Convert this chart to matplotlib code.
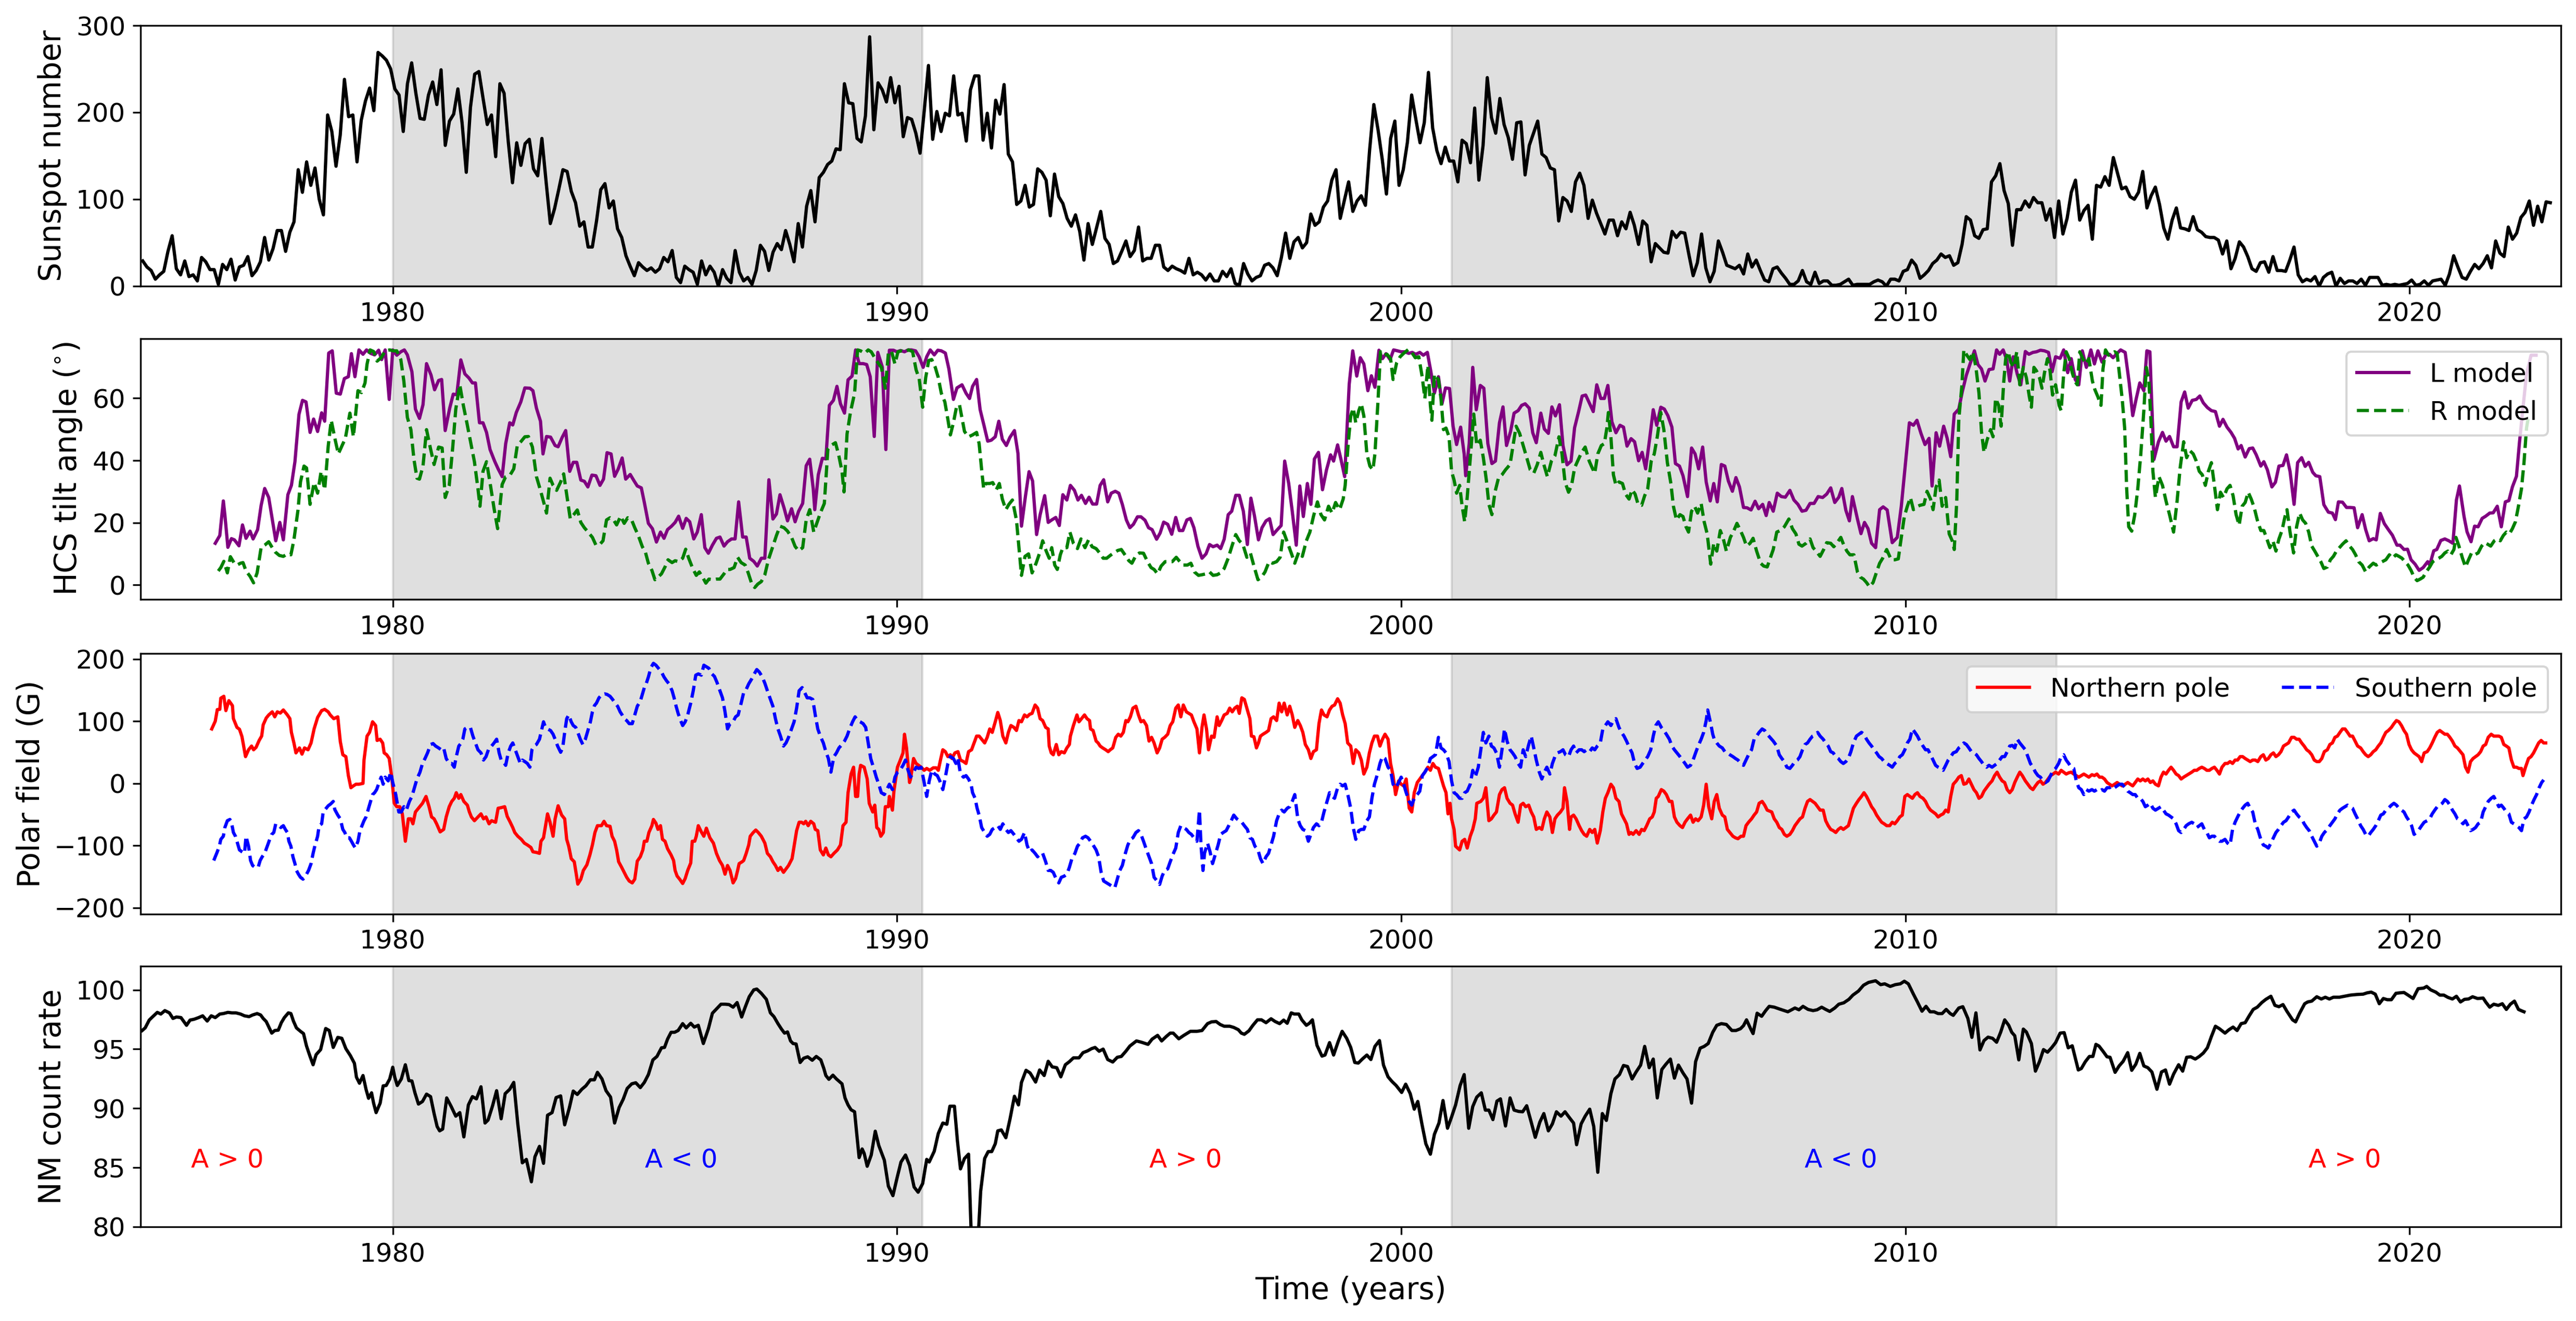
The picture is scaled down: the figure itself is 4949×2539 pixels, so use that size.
import numpy as np
import matplotlib
matplotlib.use("Agg")
import matplotlib.pyplot as plt

# ---------------- Monthly sunspot number (starting Jan 1975) ----------------
sunspot = [
29,22,18,8,13,17,40,58,20,13,29,11,13,6,33,28,19,19,2,25,19,31,7,22,24,34,12,18,28,56,
30,43,64,64,40,62,74,134,108,143,116,136,100,82,197,178,138,174,238,195,197,143,191,213,228,202,269,265,260,250,
227,220,178,233,257,222,193,192,220,235,209,249,162,190,198,227,188,131,206,244,247,216,186,197,149,233,222,166,119,165,
139,164,169,135,127,170,120,72,89,111,134,132,109,96,69,74,45,45,75,111,118,90,98,66,56,35,23,12,27,22,
18,21,16,20,33,28,41,10,4,23,19,16,2,29,13,23,16,0,19,9,4,41,16,6,10,2,18,47,40,18,
39,49,42,64,48,28,72,45,92,110,74,125,131,140,144,158,157,233,211,210,170,166,196,287,180,234,226,212,240,211,
230,172,194,192,176,153,202,254,169,201,178,199,196,242,197,199,167,
226,242,242,168,199,159,214,198,232,152,143,94,98,116,91,94,135,131,122,81,129,103,95,78,69,82,63,30,72,48,
67,86,55,48,26,29,40,52,34,41,68,29,32,32,47,47,22,18,23,20,18,15,32,13,16,13,7,14,6,6,
17,11,20,3,1,26,14,6,10,12,24,26,21,12,33,61,32,51,56,44,50,83,70,74,91,98,122,134,78,99,
120,86,98,104,93,157,209,180,146,106,170,190,116,134,166,220,192,165,188,246,182,156,141,160,144,144,120,168,164,142,
205,122,162,240,194,176,216,186,171,146,188,189,128,162,176,190,152,148,136,134,75,102,98,86,120,130,116,78,99,84,
72,60,76,76,58,74,66,85,70,48,75,70,28,49,44,39,38,63,56,62,61,36,12,27,60,21,5,17,52,39,
24,22,20,24,14,37,22,30,18,7,5,20,22,15,9,2,
2,6,18,5,2,16,3,6,6,1,1,2,5,8,1,2,2,2,2,5,7,5,0,8,8,6,17,19,30,24,
9,13,18,26,30,37,33,35,24,27,48,80,76,58,55,65,66,120,127,141,110,95,47,88,88,98,91,102,96,96,
76,89,56,98,60,78,108,122,76,87,93,54,116,114,126,116,148,130,112,114,103,100,108,132,90,104,114,94,67,54,
76,90,67,66,64,80,65,62,57,56,56,53,37,52,20,32,51,45,34,20,17,27,28,16,34,18,18,17,30,45,
13,5,8,6,11,0,10,14,16,0,9,3,6,6,3,8,1,10,10,10,1,2,1,2,1,2,3,7,1,2,
6,1,6,7,8,1,14,35,22,10,8,17,25,20,26,35,21,52,38,34,68,54,61,79,85,98,70,92,74,97,
96,
]
sunspot_time = 1975.0 + (np.arange(len(sunspot)) + 0.5) / 12.0

# ---------------- HCS tilt angle: L model (year, degrees) ----------------
l_model = [
(1976.48,13.4),(1976.57,15.9),(1976.64,27.0),(1976.67,22.6),(1976.73,12.1),(1976.80,14.9),(1976.86,14.5),(1976.95,12.6),
(1977.02,19.3),(1977.09,15.0),(1977.17,17.3),(1977.23,14.8),(1977.32,17.8),(1977.39,25.6),(1977.46,31.0),(1977.54,28.1),
(1977.61,21.2),(1977.68,14.2),(1977.76,20.1),(1977.83,14.5),(1977.92,29.0),(1977.99,32.0),(1978.06,39.6),(1978.14,54.8),
(1978.21,59.3),(1978.28,58.8),(1978.36,49.0),(1978.43,53.3),(1978.51,49.3),(1978.59,55.3),(1978.65,52.6),(1978.73,74.5),
(1978.80,75.2),(1978.88,61.6),(1978.96,61.3),(1979.04,66.3),(1979.12,66.9),(1979.18,74.3),(1979.25,66.9),(1979.33,75.5),
(1979.41,74.1),(1979.48,75.5),(1979.56,74.4),(1979.64,73.9),(1979.72,75.4),(1979.78,72.4),(1979.85,75.5),(1979.93,59.6),
(1980.00,75.5),(1980.08,73.8),(1980.16,74.9),(1980.23,75.5),(1980.29,73.9),(1980.38,68.5),(1980.45,56.5),(1980.53,53.5),
(1980.60,57.9),(1980.67,71.1),(1980.76,67.4),(1980.83,62.7),(1980.91,65.7),(1980.97,66.0),(1981.04,49.6),(1981.13,56.8),
(1981.20,61.3),(1981.27,61.1),(1981.35,72.3),(1981.43,67.8),(1981.51,66.5),(1981.58,64.9),(1981.64,64.9),(1981.72,52.1),
(1981.79,52.1),(1981.86,49.0),(1981.93,43.5),(1982.02,39.8),(1982.09,37.3),(1982.17,34.8),(1982.24,45.4),(1982.32,52.1),
(1982.38,51.4),(1982.45,55.4),(1982.54,58.8),(1982.62,63.3),(1982.72,63.2),(1982.78,62.4),(1982.85,56.8),(1982.93,52.6),
(1982.98,42.1),(1983.05,47.7),(1983.13,47.5),(1983.22,44.8),(1983.28,44.4),(1983.36,47.4),(1983.43,49.6),(1983.51,36.5),
(1983.58,39.4),(1983.65,39.4),(1983.73,33.7),(1983.80,33.3),(1983.87,31.5),(1983.95,35.3),(1984.03,35.1),(1984.11,32.0),
(1984.18,34.0),(1984.25,42.5),(1984.33,42.1),(1984.40,34.9),(1984.47,37.2),(1984.55,40.8),(1984.62,34.0),(1984.71,35.5),
(1984.78,33.6),(1984.85,31.8),(1984.93,31.2),(1984.99,26.5),(1985.07,19.8),(1985.15,18.1),(1985.23,13.8),(1985.31,17.0),
(1985.38,15.0),(1985.45,17.8),(1985.53,18.9),(1985.60,20.1),(1985.67,22.1),(1985.75,18.2),(1985.82,21.4),(1985.89,20.3),
(1985.97,14.8),(1986.04,17.0),(1986.12,22.6),(1986.19,12.0),(1986.26,10.2),(1986.34,12.8),(1986.42,15.0),(1986.49,15.4),
(1986.57,12.5),(1986.64,13.9),(1986.72,14.8),(1986.79,14.8),(1986.86,26.7),(1986.94,15.4),(1987.01,15.4),(1987.08,8.6),
(1987.16,7.6),(1987.23,6.1),(1987.31,8.6),(1987.38,8.6),(1987.46,33.8),(1987.54,21.2),(1987.61,22.8),(1987.68,29.0),
(1987.76,24.8),(1987.83,20.6),(1987.91,24.5),(1987.98,20.3),(1988.05,23.7),(1988.13,26.2),(1988.20,38.3),(1988.27,40.4),
(1988.34,30.9),(1988.37,24.2),(1988.44,35.4),(1988.52,40.7),(1988.59,40.5),(1988.66,57.7),(1988.74,59.3),(1988.81,63.8),
(1988.88,58.2),(1988.96,55.2),(1989.03,65.9),(1989.11,67.1),(1989.18,75.5),(1989.25,71.1),(1989.33,71.1),(1989.40,70.8),
(1989.47,66.9),(1989.55,47.7),(1989.62,74.7),(1989.71,70.0),(1989.78,43.5),(1989.85,75.4),(1989.93,75.4),(1990.00,74.9),
(1990.07,75.3),(1990.15,74.9),(1990.22,75.5),(1990.29,75.5),(1990.37,75.2),(1990.44,73.3),(1990.52,69.9),(1990.59,73.3),
(1990.66,75.5),(1990.74,73.9),(1990.81,75.4),(1990.88,75.2),(1990.96,74.5),(1991.03,69.4),(1991.12,59.6),(1991.19,63.3),
(1991.29,64.3),(1991.37,61.6),(1991.44,59.9),(1991.50,63.8),(1991.58,66.0),(1991.65,56.3),(1991.73,51.0),(1991.80,46.2),
(1991.87,46.5),(1991.95,47.6),(1992.02,52.6),(1992.09,46.8),(1992.17,44.8),(1992.24,47.4),(1992.33,49.6),(1992.40,42.3),
(1992.47,18.9),(1992.55,28.7),(1992.62,36.4),(1992.69,33.4),(1992.77,16.2),(1992.84,22.6),(1992.93,28.7),(1993.00,20.1),
(1993.07,20.9),(1993.15,21.7),(1993.22,19.1),(1993.29,29.0),(1993.37,27.3),(1993.44,32.0),(1993.52,30.4),(1993.59,27.3),
(1993.66,28.8),(1993.74,26.2),(1993.81,28.2),(1993.88,26.0),(1993.96,26.0),(1994.03,32.0),(1994.10,33.8),(1994.18,26.7),
(1994.25,29.5),(1994.33,30.1),(1994.40,29.5),(1994.47,25.9),(1994.55,20.9),(1994.62,18.4),(1994.69,19.5),(1994.77,21.9),
(1994.84,21.9),(1994.92,20.8),(1994.99,18.4),(1995.06,17.8),(1995.15,14.7),(1995.22,16.7),(1995.29,20.2),(1995.37,19.5),
(1995.45,16.3),(1995.53,21.7),(1995.60,17.5),(1995.67,17.5),(1995.75,20.9),(1995.82,21.4),(1995.89,18.4),(1995.97,12.4),
(1996.05,8.6),(1996.13,10.0),(1996.20,13.0),(1996.27,12.3),(1996.35,12.8),(1996.42,11.7),(1996.49,14.7),(1996.57,22.6),
(1996.64,23.7),(1996.72,28.8),(1996.79,28.8),(1996.87,23.7),(1996.95,13.0),(1997.02,27.9),(1997.09,22.3),(1997.17,14.5),
(1997.24,18.4),(1997.32,20.6),(1997.39,21.3),(1997.46,16.2),(1997.54,17.7),(1997.62,19.1),(1997.69,39.8),(1997.77,32.6),
(1997.84,23.7),(1997.92,12.8),(1997.99,31.8),(1998.06,22.0),(1998.14,32.6),(1998.21,25.9),(1998.28,40.5),(1998.36,42.6),
(1998.44,30.6),(1998.52,37.0),(1998.60,41.8),(1998.66,39.8),(1998.74,45.0),(1998.81,40.1),(1998.88,34.8),(1998.97,64.5),
(1999.04,75.2),(1999.12,67.1),(1999.19,73.0),(1999.26,71.0),(1999.34,62.4),(1999.41,67.2),(1999.48,63.5),(1999.56,75.4),
(1999.63,72.7),(1999.70,74.3),(1999.78,72.4),(1999.85,75.5),(1999.93,75.2),(2000.00,74.9),(2000.07,74.9),(2000.15,74.4),
(2000.22,74.7),(2000.29,74.1),(2000.37,74.7),(2000.44,73.8),(2000.52,74.7),(2000.59,68.5),(2000.66,61.6),(2000.74,66.9),
(2000.81,58.2),(2000.88,63.3),(2000.96,63.1),(2001.03,51.0),(2001.10,45.1),(2001.18,50.7),(2001.25,42.1),(2001.28,35.1),
(2001.35,45.4),(2001.42,69.9),(2001.49,56.3),(2001.57,64.1),(2001.64,63.2),(2001.72,45.4),(2001.80,39.0),(2001.87,39.8),
(2001.95,52.1),(2002.02,57.2),(2002.09,44.8),(2002.17,49.3),(2002.24,55.2),(2002.32,56.0),(2002.39,57.7),(2002.46,58.2),
(2002.54,56.8),(2002.61,48.9),(2002.68,45.7),(2002.77,55.2),(2002.84,50.1),(2002.92,48.7),(2002.99,57.2),(2003.06,54.3),
(2003.14,57.9),(2003.21,44.8),(2003.29,38.6),(2003.37,39.8),(2003.44,50.5),(2003.52,55.7),(2003.59,60.7),(2003.66,61.0),
(2003.74,58.2),(2003.81,55.7),(2003.88,64.3),(2003.96,59.9),(2004.03,59.9),(2004.10,64.1),(2004.18,52.4),(2004.26,48.9),
(2004.34,51.3),(2004.41,50.7),(2004.48,44.6),(2004.56,47.0),(2004.63,46.0),(2004.71,39.9),(2004.78,42.6),(2004.85,37.3),
(2004.93,47.1),(2005.00,56.3),(2005.07,51.3),(2005.15,57.1),(2005.22,56.5),(2005.29,54.4),(2005.37,50.7),(2005.44,39.0),
(2005.52,38.2),(2005.59,35.1),(2005.68,28.4),(2005.76,44.0),(2005.83,42.1),(2005.90,37.3),(2005.98,44.3),(2006.05,33.1),
(2006.13,27.0),(2006.20,32.6),(2006.27,26.7),(2006.35,38.7),(2006.42,38.2),(2006.49,33.4),(2006.57,30.1),(2006.64,34.5),
(2006.71,31.5),(2006.79,24.9),(2006.86,24.8),(2006.94,24.1),(2007.02,26.9),(2007.09,24.5),(2007.17,25.9),(2007.24,22.3),
(2007.30,26.5),(2007.38,23.7),(2007.46,29.5),(2007.54,28.4),(2007.62,28.2),(2007.71,30.4),(2007.79,27.3),(2007.87,25.9),
(2007.95,23.7),(2008.03,24.0),(2008.11,26.2),(2008.19,26.2),(2008.27,28.4),(2008.36,28.1),(2008.44,29.2),(2008.52,31.2),
(2008.60,26.5),(2008.68,28.2),(2008.74,31.0),(2008.82,24.0),(2008.89,20.6),(2008.95,28.4),(2009.05,21.2),(2009.12,16.5),
(2009.19,20.1),(2009.26,18.1),(2009.33,13.4),(2009.41,12.0),(2009.49,24.2),(2009.56,25.1),(2009.64,24.1),(2009.74,13.6),
(2009.84,15.3),(2009.92,25.3),(2010.00,38.7),(2010.08,52.1),(2010.16,51.3),(2010.23,52.9),(2010.31,48.7),(2010.39,45.1),
(2010.47,47.1),(2010.53,31.8),(2010.61,48.9),(2010.68,44.6),(2010.76,51.0),(2010.83,47.1),(2010.90,41.2),(2010.97,54.9),
(2011.06,56.5),(2011.13,62.1),(2011.21,67.4),(2011.29,71.3),(2011.37,75.2),(2011.44,70.8),(2011.51,69.4),(2011.58,65.5),
(2011.66,69.2),(2011.74,69.4),(2011.81,75.5),(2011.87,74.1),(2011.94,75.5),(2012.01,72.4),(2012.07,65.5),(2012.14,73.3),
(2012.22,67.7),(2012.29,64.3),(2012.38,75.0),(2012.45,74.1),(2012.53,74.7),(2012.60,74.9),(2012.68,75.4),(2012.76,75.2),
(2012.84,74.7),(2012.91,68.5),(2012.98,73.3),(2013.07,72.8),(2013.14,75.5),(2013.22,68.2),(2013.29,72.7),(2013.37,66.0),
(2013.44,64.3),(2013.51,75.2),(2013.59,69.9),(2013.68,75.5),(2013.75,71.0),(2013.82,75.2),(2013.90,71.6),(2013.98,74.1),
(2014.05,74.1),(2014.12,73.0),(2014.20,74.4),(2014.27,75.5),(2014.36,74.7),(2014.44,64.9),(2014.51,54.4),(2014.58,59.9),
(2014.65,64.9),(2014.73,62.4),(2014.79,75.2),(2014.85,74.9),(2014.89,57.1),(2014.93,40.3),(2015.02,46.0),(2015.10,49.0),
(2015.17,46.2),(2015.24,47.7),(2015.32,44.4),(2015.39,44.4),(2015.47,58.8),(2015.54,62.0),(2015.61,56.8),(2015.69,59.3),
(2015.77,59.6),(2015.84,60.7),(2015.91,58.5),(2015.99,57.0),(2016.07,56.0),(2016.15,55.7),(2016.23,51.0),(2016.30,53.2),
(2016.38,50.7),(2016.46,49.0),(2016.53,47.1),(2016.60,43.7),(2016.66,44.8),(2016.74,41.1),(2016.82,43.8),(2016.89,44.0),
(2016.96,41.8),(2017.05,38.2),(2017.11,39.6),(2017.18,37.0),(2017.27,31.5),(2017.34,33.0),(2017.41,38.2),(2017.49,38.4),
(2017.56,41.8),(2017.63,36.5),(2017.71,25.9),(2017.78,39.3),(2017.86,40.9),(2017.93,38.1),(2018.00,39.4),(2018.08,36.2),
(2018.14,35.1),(2018.22,34.8),(2018.30,25.8),(2018.39,23.4),(2018.47,23.1),(2018.53,21.0),(2018.59,26.7),(2018.67,26.6),
(2018.75,24.9),(2018.82,24.9),(2018.90,24.8),(2018.97,18.4),(2019.06,22.6),(2019.13,17.8),(2019.20,14.2),(2019.28,14.9),
(2019.34,14.5),(2019.42,23.0),(2019.50,19.7),(2019.58,17.8),(2019.66,16.0),(2019.75,12.8),(2019.81,12.8),(2019.89,11.4),
(2019.96,11.5),(2020.03,8.1),(2020.11,6.7),(2020.19,4.7),(2020.27,5.6),(2020.36,7.5),(2020.40,6.4),(2020.48,11.0),
(2020.54,11.4),(2020.62,14.3),(2020.70,14.8),(2020.78,14.2),(2020.86,13.4),(2020.93,27.3),(2020.99,31.8),(2021.08,22.1),
(2021.14,17.1),(2021.22,13.9),(2021.29,18.9),(2021.36,18.7),(2021.44,21.4),(2021.51,22.1),(2021.59,23.1),(2021.66,23.2),
(2021.74,25.3),(2021.82,18.7),(2021.90,26.7),(2021.97,27.1),(2022.04,31.5),(2022.12,34.9),(2022.18,45.7),(2022.24,55.4),
(2022.32,67.7),(2022.41,73.8),(2022.51,73.8),
]

# ---------------- HCS tilt angle: R model (year, degrees) ----------------
r_model = [
(1976.54,4.5),(1976.59,5.6),(1976.65,7.6),(1976.72,3.9),(1976.78,9.1),(1976.85,7.2),(1976.91,6.4),(1976.98,7.0),
(1977.03,7.2),(1977.09,4.5),(1977.17,2.8),(1977.24,0.7),(1977.31,3.9),(1977.39,12.1),(1977.46,12.8),(1977.54,13.9),
(1977.61,12.0),(1977.67,10.6),(1977.75,9.5),(1977.83,9.2),(1977.91,10.0),(1977.98,9.7),(1978.04,14.5),(1978.12,24.0),
(1978.17,33.1),(1978.24,38.2),(1978.29,37.6),(1978.36,25.9),(1978.44,32.9),(1978.51,29.5),(1978.58,36.5),(1978.65,30.6),
(1978.72,44.6),(1978.78,52.9),(1978.86,46.5),(1978.92,42.1),(1978.99,44.6),(1979.06,47.1),(1979.15,55.2),(1979.22,47.6),
(1979.31,62.4),(1979.38,61.8),(1979.45,64.9),(1979.49,70.9),(1979.55,75.5),(1979.62,75.0),(1979.69,71.9),(1979.77,73.0),
(1979.85,75.2),(1979.94,75.5),(1980.01,75.2),(1980.08,75.2),(1980.16,72.4),(1980.22,65.5),(1980.29,53.8),(1980.36,49.9),
(1980.42,40.4),(1980.48,34.3),(1980.53,34.0),(1980.60,38.2),(1980.67,49.9),(1980.75,43.7),(1980.82,38.7),(1980.91,44.3),
(1980.98,44.0),(1981.04,28.1),(1981.12,32.0),(1981.19,44.3),(1981.25,56.5),(1981.33,64.3),(1981.40,57.7),(1981.47,52.1),
(1981.55,45.4),(1981.62,39.6),(1981.69,30.9),(1981.73,25.3),(1981.79,36.5),(1981.86,39.6),(1981.94,31.8),(1982.01,24.5),
(1982.08,18.1),(1982.17,32.3),(1982.24,34.8),(1982.33,35.4),(1982.40,37.3),(1982.47,44.8),(1982.55,46.2),(1982.62,47.6),
(1982.69,47.7),(1982.77,44.3),(1982.85,34.8),(1982.93,30.4),(1983.00,26.2),(1983.05,23.1),(1983.12,34.3),(1983.18,32.0),
(1983.25,30.4),(1983.33,33.1),(1983.39,35.7),(1983.45,29.0),(1983.52,21.3),(1983.59,22.6),(1983.66,24.1),(1983.73,20.1),
(1983.80,18.4),(1983.87,17.1),(1983.96,15.3),(1984.03,12.8),(1984.11,13.1),(1984.17,14.2),(1984.24,20.9),(1984.31,21.6),
(1984.38,20.9),(1984.44,19.3),(1984.52,22.1),(1984.59,19.8),(1984.66,21.6),(1984.74,20.8),(1984.80,18.4),(1984.87,15.9),
(1984.95,12.3),(1985.01,10.6),(1985.07,7.0),(1985.14,4.7),(1985.20,1.7),(1985.26,2.5),(1985.33,3.6),(1985.40,5.8),
(1985.46,8.1),(1985.54,7.2),(1985.60,7.8),(1985.67,7.5),(1985.75,8.6),(1985.81,11.5),(1985.87,8.6),(1985.95,5.3),
(1986.02,3.1),(1986.08,4.2),(1986.15,2.4),(1986.21,0.6),(1986.27,1.9),(1986.35,1.7),(1986.42,1.9),(1986.49,1.9),
(1986.57,3.6),(1986.63,5.0),(1986.69,5.0),(1986.77,5.6),(1986.84,8.9),(1986.91,7.2),(1986.99,6.4),(1987.05,3.9),
(1987.12,0.4),(1987.18,-0.8),(1987.24,0.3),(1987.31,1.1),(1987.38,3.3),(1987.45,8.1),(1987.54,12.5),(1987.61,15.9),
(1987.68,18.9),(1987.76,18.4),(1987.83,17.3),(1987.91,15.3),(1987.98,12.4),(1988.05,11.0),(1988.13,12.0),(1988.20,20.9),
(1988.27,24.2),(1988.35,17.0),(1988.41,19.8),(1988.48,23.1),(1988.56,26.2),(1988.63,43.7),(1988.69,44.8),(1988.78,45.7),
(1988.84,42.1),(1988.91,36.5),(1988.95,29.9),(1989.01,48.5),(1989.08,55.7),(1989.16,61.6),(1989.22,75.5),(1989.28,75.2),
(1989.36,74.4),(1989.43,75.5),(1989.49,74.9),(1989.57,72.7),(1989.64,71.0),(1989.69,69.9),(1989.77,63.2),(1989.83,74.4),
(1989.89,75.2),(1989.96,71.0),(1990.02,74.9),(1990.09,75.2),(1990.17,74.9),(1990.23,75.5),(1990.31,75.0),(1990.38,69.1),
(1990.44,66.3),(1990.51,57.1),(1990.57,66.6),(1990.63,72.1),(1990.69,72.4),(1990.76,69.9),(1990.82,66.6),(1990.88,61.6),
(1990.95,58.8),(1991.01,53.2),(1991.06,48.2),(1991.12,52.1),(1991.18,57.1),(1991.24,57.9),(1991.34,49.3),(1991.42,47.6),
(1991.50,48.2),(1991.58,49.0),(1991.63,45.4),(1991.68,37.0),(1991.72,30.9),(1991.76,32.6),(1991.84,32.6),(1991.90,32.9),
(1991.97,30.6),(1992.03,32.6),(1992.09,27.6),(1992.16,24.2),(1992.22,25.9),(1992.29,27.3),(1992.37,20.9),(1992.42,12.0),
(1992.47,3.1),(1992.54,9.2),(1992.61,10.0),(1992.68,3.9),(1992.76,7.0),(1992.83,10.3),(1992.89,14.2),(1992.96,10.9),
(1993.02,8.6),(1993.07,12.0),(1993.13,6.4),(1993.18,5.0),(1993.24,9.7),(1993.29,12.0),(1993.37,12.0),(1993.43,17.0),
(1993.50,13.4),(1993.58,11.7),(1993.65,14.8),(1993.73,12.0),(1993.80,14.5),(1993.87,12.3),(1993.95,11.7),(1994.02,10.3),
(1994.09,8.6),(1994.16,8.6),(1994.23,9.5),(1994.30,10.3),(1994.38,11.1),(1994.45,11.4),(1994.53,9.5),(1994.60,7.8),
(1994.66,7.0),(1994.74,9.5),(1994.81,10.3),(1994.89,10.2),(1994.97,7.5),(1995.04,5.6),(1995.10,5.0),(1995.17,3.6),
(1995.24,6.1),(1995.32,7.5),(1995.39,7.5),(1995.46,7.5),(1995.54,8.9),(1995.61,7.5),(1995.68,6.4),(1995.76,6.4),
(1995.83,7.0),(1995.90,4.2),(1995.98,3.1),(1996.05,3.3),(1996.13,3.6),(1996.20,4.2),(1996.27,3.1),(1996.35,3.3),
(1996.42,3.9),(1996.49,5.3),(1996.57,8.6),(1996.64,12.3),(1996.72,16.2),(1996.79,14.2),(1996.86,13.1),(1996.94,8.9),
(1997.01,10.3),(1997.08,6.1),(1997.16,1.7),(1997.23,2.5),(1997.30,4.2),(1997.38,7.5),(1997.45,7.0),(1997.53,7.5),
(1997.60,8.9),(1997.67,17.0),(1997.75,13.4),(1997.82,10.3),(1997.89,7.0),(1997.97,10.6),(1998.04,9.2),(1998.12,14.2),
(1998.19,17.0),(1998.26,22.0),(1998.34,26.7),(1998.41,22.6),(1998.48,20.9),(1998.56,25.3),(1998.63,23.1),(1998.70,26.5),
(1998.78,24.2),(1998.85,27.6),(1998.89,32.0),(1998.95,45.4),(1999.00,54.3),(1999.05,56.8),(1999.10,52.1),(1999.16,56.0),
(1999.21,58.2),(1999.26,54.3),(1999.32,42.1),(1999.38,38.2),(1999.44,37.0),(1999.48,42.1),(1999.54,58.8),(1999.59,74.9),
(1999.65,73.8),(1999.72,74.1),(1999.79,72.7),(1999.84,66.0),(1999.91,71.3),(1999.98,73.3),(2000.05,74.4),(2000.14,75.6),
(2000.21,74.7),(2000.28,73.0),(2000.35,73.3),(2000.42,66.6),(2000.47,59.9),(2000.53,70.5),(2000.58,57.7),(2000.61,52.9),
(2000.66,67.7),(2000.74,66.0),(2000.79,59.9),(2000.84,49.9),(2000.89,50.4),(2000.95,47.6),(2001.00,36.5),(2001.05,33.7),
(2001.10,29.5),(2001.16,32.0),(2001.21,25.3),(2001.26,20.3),(2001.31,28.1),(2001.38,42.6),(2001.44,54.9),(2001.50,44.8),
(2001.57,46.5),(2001.63,40.9),(2001.69,33.7),(2001.74,25.9),(2001.80,22.6),(2001.86,29.8),(2001.93,34.3),(2002.00,35.4),
(2002.07,37.0),(2002.16,38.7),(2002.22,44.8),(2002.28,51.0),(2002.35,48.7),(2002.41,45.4),(2002.48,41.5),(2002.56,37.0),
(2002.63,35.9),(2002.70,38.7),(2002.77,42.6),(2002.83,38.7),(2002.90,34.8),(2002.98,39.8),(2003.05,41.5),(2003.13,47.6),
(2003.19,42.1),(2003.25,33.1),(2003.32,29.8),(2003.38,32.0),(2003.44,37.6),(2003.50,39.8),(2003.58,42.6),(2003.65,44.3),
(2003.73,39.8),(2003.79,37.6),(2003.84,35.9),(2003.90,42.1),(2003.97,44.8),(2004.03,45.4),(2004.08,50.4),(2004.11,55.4),
(2004.16,47.6),(2004.21,35.4),(2004.26,32.0),(2004.32,33.1),(2004.39,32.6),(2004.45,29.2),(2004.52,27.6),(2004.58,30.6),
(2004.64,29.2),(2004.70,25.9),(2004.77,25.6),(2004.83,28.7),(2004.89,30.9),(2004.96,39.8),(2005.02,42.1),(2005.08,47.6),
(2005.15,55.4),(2005.21,49.9),(2005.28,39.3),(2005.35,32.6),(2005.40,25.3),(2005.46,20.9),(2005.53,22.6),(2005.59,22.0),
(2005.65,18.7),(2005.70,17.0),(2005.76,23.7),(2005.82,25.3),(2005.88,23.1),(2005.95,26.2),(2006.01,20.3),(2006.07,16.4),
(2006.14,6.7),(2006.20,13.4),(2006.26,10.9),(2006.33,17.5),(2006.39,14.8),(2006.45,10.9),(2006.53,15.3),(2006.60,17.5),
(2006.66,19.8),(2006.73,17.5),(2006.79,15.3),(2006.85,12.5),(2006.92,13.4),(2006.98,15.0),(2007.05,10.9),(2007.13,7.0),
(2007.19,6.1),(2007.26,5.8),(2007.38,11.4),(2007.45,17.0),(2007.52,17.5),(2007.60,18.7),(2007.69,21.2),(2007.76,18.1),
(2007.83,16.4),(2007.89,13.1),(2007.95,12.5),(2008.03,13.4),(2008.11,14.8),(2008.17,12.0),(2008.23,10.9),(2008.31,9.2),
(2008.38,11.4),(2008.44,13.6),(2008.52,13.4),(2008.58,12.3),(2008.64,13.4),(2008.72,15.3),(2008.78,12.8),(2008.84,10.9),
(2008.90,9.7),(2008.98,9.7),(2009.05,4.2),(2009.11,2.5),(2009.17,1.9),(2009.23,0.8),(2009.29,-0.6),(2009.36,0.8),
(2009.43,4.2),(2009.49,7.0),(2009.55,8.6),(2009.63,11.4),(2009.72,8.1),(2009.79,8.1),(2009.86,8.4),(2009.92,15.3),
(2009.98,22.0),(2010.04,25.3),(2010.10,28.1),(2010.16,24.2),(2010.22,25.1),(2010.29,25.6),(2010.37,25.9),(2010.43,30.1),
(2010.50,27.6),(2010.55,24.2),(2010.61,31.5),(2010.67,33.7),(2010.73,25.3),(2010.80,28.1),(2010.87,16.4),(2010.93,14.2),
(2010.97,11.4),(2011.02,27.0),(2011.06,53.2),(2011.12,63.8),(2011.16,75.5),(2011.22,73.8),(2011.28,72.4),(2011.34,74.9),
(2011.40,69.9),(2011.46,61.6),(2011.51,49.3),(2011.56,42.6),(2011.62,46.5),(2011.69,49.9),(2011.74,47.6),(2011.79,59.9),
(2011.85,57.7),(2011.90,51.0),(2011.95,64.9),(2011.99,72.7),(2012.04,74.9),(2012.09,71.6),(2012.15,69.9),(2012.21,74.9),
(2012.27,64.3),(2012.34,69.9),(2012.40,66.6),(2012.46,60.4),(2012.50,57.1),(2012.55,69.9),(2012.60,68.8),(2012.66,66.6),
(2012.71,63.2),(2012.76,68.2),(2012.82,72.7),(2012.87,68.8),(2012.92,61.0),(2012.98,64.3),(2013.05,57.7),(2013.09,56.0),
(2013.14,67.7),(2013.19,74.9),(2013.25,72.7),(2013.31,68.2),(2013.36,65.5),(2013.41,64.3),(2013.46,74.9),(2013.52,72.7),
(2013.58,71.0),(2013.64,72.7),(2013.71,65.5),(2013.76,62.7),(2013.82,60.4),(2013.88,57.7),(2013.92,69.4),(2013.97,75.5),
(2014.03,73.8),(2014.09,74.4),(2014.15,74.9),(2014.20,74.4),(2014.25,67.1),(2014.30,59.9),(2014.35,50.4),(2014.39,30.9),
(2014.43,18.7),(2014.49,17.3),(2014.55,22.6),(2014.61,30.9),(2014.67,42.1),(2014.73,56.0),(2014.78,69.9),(2014.83,65.5),
(2014.87,53.2),(2014.91,36.5),(2014.96,28.1),(2015.03,34.8),(2015.10,32.0),(2015.17,27.0),(2015.24,22.6),(2015.32,17.0),
(2015.39,27.0),(2015.45,37.6),(2015.52,46.0),(2015.58,40.9),(2015.64,43.2),(2015.71,42.1),(2015.77,39.8),(2015.83,36.5),
(2015.89,35.4),(2015.95,32.0),(2016.01,36.5),(2016.07,39.3),(2016.13,32.0),(2016.19,24.2),(2016.25,29.8),(2016.31,28.1),
(2016.38,30.9),(2016.44,32.0),(2016.50,28.7),(2016.56,22.6),(2016.62,19.2),(2016.68,25.3),(2016.74,26.5),(2016.80,29.8),
(2016.86,27.6),(2016.92,24.8),(2016.98,20.9),(2017.05,17.5),(2017.11,17.5),(2017.17,14.8),(2017.23,12.0),(2017.29,14.2),
(2017.35,10.9),(2017.41,14.8),(2017.47,17.5),(2017.53,22.0),(2017.57,24.2),(2017.63,17.0),(2017.70,10.3),(2017.76,18.7),
(2017.82,23.1),(2017.88,20.9),(2017.94,19.8),(2018.00,17.0),(2018.06,12.5),(2018.12,10.9),(2018.18,9.2),(2018.24,7.5),
(2018.30,5.3),(2018.37,5.8),(2018.43,8.1),(2018.49,9.2),(2018.55,10.9),(2018.61,12.0),(2018.67,13.1),(2018.74,14.2),
(2018.81,12.5),(2018.87,11.4),(2018.93,9.7),(2018.99,7.5),(2019.06,6.4),(2019.13,4.2),(2019.20,5.8),(2019.28,7.0),
(2019.34,6.4),(2019.40,7.0),(2019.46,7.5),(2019.53,8.1),(2019.60,9.7),(2019.66,8.6),(2019.73,9.7),(2019.79,9.2),
(2019.85,8.6),(2019.91,7.5),(2019.97,6.4),(2020.03,4.7),(2020.09,2.5),(2020.15,1.4),(2020.21,1.9),(2020.27,2.5),
(2020.33,4.2),(2020.40,5.8),(2020.46,7.5),(2020.52,8.1),(2020.58,8.6),(2020.64,9.2),(2020.70,10.3),(2020.76,10.9),
(2020.82,9.7),(2020.88,11.4),(2020.92,15.3),(2020.98,12.5),(2021.05,8.6),(2021.11,5.8),(2021.17,8.1),(2021.23,10.3),
(2021.29,9.7),(2021.36,10.3),(2021.43,12.5),(2021.49,13.6),(2021.55,13.1),(2021.61,12.5),(2021.68,14.2),(2021.74,14.8),
(2021.80,14.2),(2021.86,15.9),(2021.92,17.0),(2021.98,16.4),(2022.04,18.1),(2022.10,20.3),(2022.16,25.3),(2022.22,30.9),
(2022.27,39.3),(2022.32,50.4),(2022.36,54.3),
]

# ---------------- Polar field: Northern pole (year, G) ----------------
north_pole = [
(1976.41,87.5),(1976.48,100),(1976.52,118.6),(1976.57,119),(1976.59,137),(1976.65,140),(1976.69,117),(1976.75,133),
(1976.82,125),(1976.84,104),(1976.91,90),(1976.96,87),(1977.01,75),(1977.08,43),(1977.14,54),(1977.20,60),(1977.24,54),
(1977.29,58),(1977.35,69),(1977.40,76),(1977.43,94),(1977.49,105),(1977.54,110),(1977.61,115),(1977.66,107),(1977.71,115),
(1977.77,113),(1977.83,118),(1977.91,110),(1977.96,104),(1977.99,82),(1978.04,65),(1978.08,49),(1978.15,57),(1978.20,47),
(1978.25,57),(1978.32,54),(1978.38,65),(1978.44,87.5),(1978.51,106),(1978.59,117),(1978.65,119),(1978.72,115),(1978.76,110),
(1978.83,104),(1978.91,107),(1978.96,67),(1979.01,46),(1979.07,43),(1979.12,12.5),(1979.17,-7),(1979.22,-4),(1979.27,-1.4),
(1979.33,-1.4),(1979.41,0),(1979.43,37.5),(1979.49,76),(1979.54,82),(1979.60,99),(1979.66,93),(1979.69,69),(1979.75,71),
(1979.80,65),(1979.83,49),(1979.88,46),(1979.93,40),(1979.98,9.7),(1980.03,-32),(1980.08,-37.5),(1980.14,-37.5),(1980.19,-49),
(1980.25,-93),(1980.31,-57),(1980.36,-57),(1980.40,-65),(1980.45,-46),(1980.52,-39),(1980.59,-32),(1980.66,-21),(1980.72,-37.5),
(1980.77,-54),(1980.82,-57),(1980.87,-65),(1980.94,-78),(1981.01,-74),(1981.06,-54),(1981.12,-37.5),(1981.17,-29),(1981.22,-24),
(1981.26,-15),(1981.31,-24),(1981.35,-18),(1981.41,-29),(1981.48,-35),(1981.52,-46),(1981.56,-54),(1981.62,-60),(1981.69,-54),
(1981.75,-49),(1981.80,-57),(1981.85,-54),(1981.91,-65),(1981.96,-60),(1982.04,-62.5),(1982.09,-40),(1982.15,-39),(1982.22,-37.5),
(1982.27,-53),(1982.33,-62.5),(1982.38,-71),(1982.42,-79),(1982.48,-85),(1982.55,-90),(1982.61,-96),(1982.67,-99),(1982.74,-103),
(1982.78,-110),(1982.85,-111),(1982.91,-112.5),(1982.94,-93),(1982.99,-87.5),(1983.03,-68),(1983.07,-49),(1983.12,-62.5),
(1983.18,-85),(1983.22,-57),(1983.28,-36),(1983.35,-51),(1983.41,-57),(1983.45,-90),(1983.49,-101),(1983.54,-121),(1983.60,-126),
(1983.64,-146),(1983.67,-162),(1983.73,-154),(1983.78,-140),(1983.85,-131),(1983.91,-115),(1983.96,-99),(1984.01,-79),(1984.06,-68),
(1984.14,-68),(1984.19,-61),(1984.24,-68),(1984.31,-69),(1984.35,-85),(1984.40,-93),(1984.44,-107),(1984.48,-126),(1984.54,-135),
(1984.59,-143),(1984.64,-151),(1984.69,-157),(1984.75,-160),(1984.80,-154),(1984.85,-125),(1984.91,-118),(1984.96,-107),(1984.99,-93),
(1985.04,-93),(1985.08,-79),(1985.14,-68),(1985.17,-58),(1985.22,-64),(1985.26,-74),(1985.31,-68),(1985.35,-90),(1985.40,-93),
(1985.45,-105),(1985.52,-115),(1985.57,-124),(1985.60,-140),(1985.64,-149),(1985.69,-154),(1985.75,-161),(1985.80,-153),(1985.85,-140),
(1985.91,-128),(1985.94,-93),(1985.99,-93),(1986.02,-85),(1986.06,-68),(1986.12,-78),(1986.17,-85),(1986.22,-72),(1986.29,-87.5),
(1986.36,-96),(1986.42,-112.5),(1986.48,-124),(1986.54,-132),(1986.59,-146),(1986.64,-132),(1986.69,-140),(1986.75,-160),(1986.80,-153),
(1986.84,-140),(1986.87,-129),(1986.93,-126),(1986.96,-124),(1987.01,-112.5),(1987.06,-99),(1987.09,-85),(1987.15,-79),(1987.20,-75),
(1987.25,-79),(1987.31,-85),(1987.38,-96),(1987.43,-112.5),(1987.49,-118),(1987.54,-126),(1987.59,-132),(1987.64,-140),(1987.69,-135),
(1987.75,-143),(1987.80,-137.5),(1987.85,-132),(1987.92,-121),(1987.96,-101),(1988.01,-76),(1988.06,-62.5),(1988.11,-62.5),(1988.15,-65),
(1988.19,-61),(1988.24,-68),(1988.29,-61),(1988.35,-65),(1988.38,-74),(1988.43,-76),(1988.48,-107),(1988.54,-115),(1988.59,-104),
(1988.64,-115),(1988.69,-118),(1988.75,-112.5),(1988.82,-107),(1988.88,-99),(1988.93,-68),(1988.99,-62.5),(1989.03,-15),(1989.09,15),
(1989.14,26),(1989.18,-21),(1989.22,-21),(1989.25,15),(1989.28,29),(1989.35,26),(1989.41,7),(1989.45,-32),(1989.52,-46),(1989.56,-35),
(1989.60,-71),(1989.64,-74),(1989.68,-85),(1989.73,-79),(1989.77,-37.5),(1989.83,-37.5),(1989.85,-21),(1989.91,-43),(1989.94,-12.5),
(1989.98,10),(1990.01,26),(1990.06,36),(1990.12,49),(1990.15,79),(1990.19,57),(1990.23,21),(1990.25,1.4),(1990.27,7),(1990.33,40),
(1990.38,32),(1990.43,29),(1990.48,26),(1990.54,21),(1990.59,24),(1990.65,21),(1990.72,25),(1990.78,25),(1990.82,21),(1990.87,40),
(1990.91,54),(1990.96,51),(1991.01,43),(1991.06,46),(1991.09,40),(1991.15,49),(1991.21,51),(1991.26,37.5),(1991.32,35),(1991.37,32),
(1991.42,51),(1991.48,54),(1991.53,65),(1991.58,76),(1991.63,76),(1991.68,71),(1991.74,65),(1991.79,74),(1991.84,87.5),(1991.89,82),
(1991.95,99),(1992.00,114),(1992.05,101),(1992.10,76),(1992.16,65),(1992.21,82),(1992.26,93),(1992.32,90),(1992.37,85),(1992.42,101),
(1992.47,99),(1992.53,110),(1992.58,107),(1992.63,111),(1992.68,112.5),(1992.74,126),(1992.79,121),(1992.84,104),(1992.89,101),
(1992.95,90),(1993.00,87.5),(1993.02,60),(1993.06,49),(1993.10,46),(1993.16,62.5),(1993.21,46),(1993.26,51),(1993.32,49),(1993.37,57),
(1993.42,62.5),(1993.44,76),(1993.50,93),(1993.57,110),(1993.61,99),(1993.66,104),(1993.72,110),(1993.77,104),(1993.82,101),
(1993.84,87.5),(1993.89,85),(1993.95,68),(1993.99,65),(1994.03,60),(1994.08,57),(1994.14,54),(1994.19,51),(1994.23,54),(1994.28,57),
(1994.34,74),(1994.39,79),(1994.44,76),(1994.49,82),(1994.54,101),(1994.58,99),(1994.63,107),(1994.68,121),(1994.74,124),(1994.79,110),
(1994.84,99),(1994.89,101),(1994.95,93),(1995.00,68),(1995.05,74),(1995.10,65),(1995.16,49),(1995.21,57),(1995.26,71),(1995.31,74),
(1995.37,79),(1995.42,93),(1995.47,99),(1995.53,121),(1995.58,126),(1995.63,107),(1995.68,126),(1995.74,115),(1995.79,112.5),
(1995.84,110),(1995.89,99),(1995.95,87.5),(1996.00,49),(1996.05,90),(1996.09,110),(1996.14,87.5),(1996.18,54),(1996.24,76),(1996.29,74),
(1996.35,107),(1996.39,93),(1996.44,101),(1996.49,110),(1996.55,112.5),(1996.60,121),(1996.65,115),(1996.70,121),(1996.75,124),
(1996.79,112.5),(1996.84,137.5),(1996.89,135),(1996.95,118),(1997.00,104),(1997.03,76),(1997.08,75),(1997.13,57),(1997.17,65),(1997.21,76),
(1997.26,79),(1997.32,82),(1997.37,85),(1997.42,104),(1997.47,107),(1997.53,101),(1997.58,129),(1997.63,115),(1997.68,129),(1997.74,110),
(1997.79,124),(1997.84,110),(1997.89,90),(1997.95,101),(1998.00,93),(1998.05,82),(1998.10,62.5),(1998.16,54),(1998.21,40),(1998.26,51),
(1998.32,54),(1998.37,96),(1998.42,118),(1998.47,110),(1998.53,107),(1998.58,118),(1998.63,124),(1998.68,126),(1998.74,136),(1998.79,129),
(1998.84,110),(1998.89,96),(1998.94,65),(1999.00,60),(1999.05,32),(1999.10,54),(1999.16,49),(1999.21,37.5),(1999.26,15),(1999.32,26),
(1999.37,49),(1999.42,65),(1999.47,76),(1999.53,76),(1999.58,60),(1999.63,71),(1999.68,79),(1999.74,71),(1999.79,32),(1999.84,12.5),
(1999.89,-18),(1999.95,4),(2000.00,-1.4),(2000.05,-4),(2000.10,7),(2000.16,-40),(2000.21,-46),(2000.26,-15),(2000.32,1.4),(2000.37,7),
(2000.42,12.5),(2000.47,18),(2000.53,26),(2000.58,21),(2000.63,32),(2000.68,26),(2000.74,24),(2000.79,10),(2000.84,-4),(2000.89,-15),
(2000.93,-49),(2000.97,-32),(2001.00,-57),(2001.05,-74),(2001.08,-101),(2001.16,-107),(2001.21,-93),(2001.26,-90),(2001.31,-104),
(2001.37,-85),(2001.42,-74),(2001.47,-57),(2001.50,-32),(2001.58,-29),(2001.63,-24),(2001.68,-7),(2001.74,-60),(2001.79,-57),(2001.84,-51),
(2001.89,-46),(2001.95,-18),(2002.00,-10),(2002.05,-7),(2002.10,-24),(2002.16,-32),(2002.21,-35),(2002.26,-49),(2002.32,-62.5),(2002.37,-35),
(2002.42,-32),(2002.47,-37.5),(2002.53,-35),(2002.58,-46),(2002.63,-54),(2002.68,-74),(2002.74,-71),(2002.79,-74),(2002.84,-57),(2002.89,-46),
(2002.95,-54),(2003.00,-79),(2003.05,-57),(2003.10,-51),(2003.16,-46),(2003.21,-40),(2003.24,-7),(2003.29,-29),(2003.34,-74),(2003.37,-54),
(2003.42,-51),(2003.47,-57),(2003.53,-68),(2003.58,-76),(2003.63,-82),(2003.68,-85),(2003.74,-74),(2003.79,-79),(2003.84,-74),(2003.89,-96),
(2003.95,-76),(2004.00,-46),(2004.05,-24),(2004.10,-15),(2004.16,-1.4),(2004.21,-7),(2004.26,-24),(2004.32,-29),(2004.37,-49),(2004.42,-57),
(2004.47,-65),(2004.52,-82),(2004.56,-79),(2004.60,-82),(2004.66,-76),(2004.72,-82),(2004.77,-74),(2004.82,-76),(2004.87,-68),(2004.93,-57),
(2004.98,-54),(2005.02,-46),(2005.06,-24),(2005.10,-21),(2005.16,-10),(2005.21,-12.5),(2005.26,-18),(2005.32,-29),(2005.37,-29),(2005.42,-54),
(2005.47,-62.5),(2005.53,-68),(2005.58,-71),(2005.63,-62.5),(2005.68,-57),(2005.74,-51),(2005.79,-62.5),(2005.84,-57),(2005.89,-60),
(2005.95,-54),(2006.00,-35),(2006.05,-1.4),(2006.10,-37.5),(2006.16,-57),(2006.21,-29),(2006.26,-18),(2006.31,-40),(2006.37,-51),(2006.42,-54),
(2006.47,-74),(2006.52,-79),(2006.58,-85),(2006.63,-87.5),(2006.68,-89),(2006.74,-85),(2006.79,-85),(2006.84,-68),(2006.89,-62.5),(2006.95,-57),
(2007.00,-51),(2007.05,-46),(2007.10,-32),(2007.16,-29),(2007.21,-35),(2007.26,-43),(2007.35,-46),(2007.40,-57),(2007.45,-62.5),(2007.50,-71),
(2007.55,-74),(2007.60,-82),(2007.65,-85),(2007.71,-82),(2007.76,-76),(2007.81,-68),(2007.86,-62.5),(2007.91,-57),(2007.96,-54),(2008.01,-40),
(2008.06,-29),(2008.11,-26),(2008.16,-29),(2008.21,-32),(2008.26,-37.5),(2008.31,-43),(2008.37,-43),(2008.42,-60),(2008.47,-68),(2008.52,-74),
(2008.57,-76),(2008.62,-79),(2008.67,-74),(2008.72,-71),(2008.77,-74),(2008.82,-71),(2008.87,-68),(2008.92,-54),(2008.97,-40),(2009.03,-32),
(2009.08,-26),(2009.13,-21),(2009.18,-15),(2009.23,-21),(2009.28,-29),(2009.33,-37.5),(2009.38,-43),(2009.43,-51),(2009.48,-57),(2009.53,-62.5),
(2009.58,-65),(2009.63,-68),(2009.69,-68),(2009.74,-62.5),(2009.79,-65),(2009.84,-60),(2009.89,-54),(2009.94,-51),(2009.99,-21),(2010.04,-18),
(2010.09,-21),(2010.14,-24),(2010.19,-18),(2010.24,-15),(2010.29,-21),(2010.35,-24),(2010.40,-29),(2010.45,-37.5),(2010.50,-43),(2010.55,-46),
(2010.60,-49),(2010.65,-54),(2010.70,-51),(2010.75,-49),(2010.80,-43),(2010.85,-46),(2010.90,-21),(2010.95,-1.4),(2011.01,4),(2011.06,10),
(2011.11,12.5),(2011.16,-1.4),(2011.21,0),(2011.26,7),(2011.31,-1.4),(2011.36,-10),(2011.41,-15),(2011.46,-24),(2011.51,-21),(2011.56,-12.5),
(2011.61,-7),(2011.66,-1.4),(2011.72,4),(2011.77,12.5),(2011.82,18),(2011.87,10),(2011.92,4),(2011.97,1.4),(2012.02,-10),(2012.07,-15),
(2012.12,-10),(2012.17,1.4),(2012.22,10),(2012.27,18),(2012.32,12.5),(2012.38,4),(2012.43,-1.4),(2012.48,-7),(2012.53,-10),(2012.58,-4),
(2012.63,1.4),(2012.68,4),(2012.73,-1.4),(2012.78,1.4),(2012.83,7),(2012.88,12.5),(2012.93,15),(2012.98,18),(2013.04,15),(2013.09,21),
(2013.14,18),(2013.19,15),(2013.24,17),(2013.29,18),(2013.34,15),(2013.39,12.5),(2013.44,10),(2013.49,12.5),(2013.54,15),(2013.59,12.5),
(2013.64,10),(2013.70,14),(2013.75,12.5),(2013.80,15),(2013.85,10),(2013.90,10),(2013.95,7),(2014.00,1.4),(2014.05,-1.4),(2014.10,-4),
(2014.15,-1.4),(2014.20,1.4),(2014.25,-1.4),(2014.30,-4),(2014.36,-1.4),(2014.41,1.4),(2014.46,-1.4),(2014.51,-4),(2014.56,1.4),(2014.61,7),
(2014.66,4),(2014.71,7),(2014.76,4),(2014.81,7),(2014.86,1.4),(2014.91,4),(2014.96,-1.4),(2015.02,-4),(2015.07,10),(2015.12,18),(2015.17,15),
(2015.22,21),(2015.27,26),(2015.32,21),(2015.37,15),(2015.42,12.5),(2015.47,7),(2015.52,10),(2015.57,12.5),(2015.62,15),(2015.68,18),
(2015.73,21),(2015.78,21),(2015.83,24),(2015.88,26),(2015.93,24),(2015.98,21),(2016.03,21),(2016.08,24),(2016.13,26),(2016.18,21),(2016.23,15),
(2016.28,26),(2016.34,32),(2016.39,32),(2016.44,35),(2016.49,32),(2016.54,37.5),(2016.59,37.5),(2016.64,43),(2016.69,43),(2016.74,40),
(2016.79,37.5),(2016.84,35),(2016.89,37.5),(2016.94,37.5),(2016.99,35),(2017.05,43),(2017.10,46),(2017.15,37.5),(2017.20,40),(2017.25,46),
(2017.30,49),(2017.35,43),(2017.40,46),(2017.45,51),(2017.50,60),(2017.55,62.5),(2017.60,65),(2017.66,74),(2017.71,74),(2017.76,71),
(2017.81,71),(2017.86,65),(2017.91,60),(2017.96,54),(2018.01,51),(2018.06,46),(2018.11,37.5),(2018.16,35),(2018.21,35),(2018.26,40),
(2018.31,51),(2018.37,54),(2018.42,62.5),(2018.47,65),(2018.52,74),(2018.57,76),(2018.62,82),(2018.67,87.5),(2018.72,87.5),(2018.77,82),
(2018.82,76),(2018.87,76),(2018.92,68),(2018.97,60),(2019.03,57),(2019.08,51),(2019.13,46),(2019.18,43),(2019.23,46),(2019.28,51),
(2019.33,54),(2019.38,60),(2019.43,65),(2019.48,74),(2019.53,82),(2019.58,85),(2019.64,90),(2019.69,96),(2019.74,101),(2019.79,99),
(2019.84,93),(2019.89,85),(2019.94,79),(2019.99,62.5),(2020.04,54),(2020.09,49),(2020.14,46),(2020.19,43),(2020.24,35),(2020.29,49),
(2020.35,51),(2020.40,57),(2020.45,65),(2020.50,74),(2020.55,82),(2020.60,85),(2020.65,82),(2020.70,79),(2020.75,79),(2020.80,74),
(2020.85,68),(2020.90,60),(2020.95,57),(2021.01,51),(2021.06,46),(2021.11,26),(2021.16,18),(2021.21,35),(2021.26,40),(2021.31,43),
(2021.36,46),(2021.41,51),(2021.46,60),(2021.51,62.5),(2021.56,74),(2021.62,79),(2021.67,76),(2021.72,76),(2021.77,76),(2021.82,74),
(2021.87,62.5),(2021.92,60),(2021.97,57),(2022.02,37.5),(2022.07,26),(2022.12,26),(2022.17,24),(2022.22,24),(2022.25,12.5),(2022.30,26),
(2022.36,40),(2022.41,43),(2022.46,49),(2022.51,57),(2022.56,65),(2022.61,69),(2022.66,65),(2022.70,65),
]

# ---------------- Polar field: Southern pole (year, G) ----------------
south_pole = [
(1976.45,-124),(1976.48,-118),(1976.52,-110),(1976.56,-101),(1976.59,-90),(1976.64,-85),(1976.67,-71),(1976.72,-60),(1976.77,-58),
(1976.80,-62.5),(1976.84,-79),(1976.88,-85),(1976.92,-96),(1976.96,-107),(1977.01,-110),(1977.06,-112.5),(1977.09,-85),(1977.14,-101),
(1977.18,-124),(1977.22,-132),(1977.27,-135),(1977.33,-135),(1977.37,-124),(1977.41,-118),(1977.46,-112.5),(1977.52,-99),(1977.56,-90),
(1977.60,-82),(1977.64,-79),(1977.68,-65),(1977.73,-67),(1977.78,-71),(1977.83,-68),(1977.87,-74),(1977.91,-79),(1977.94,-93),(1977.98,-101),
(1978.02,-118),(1978.06,-129),(1978.09,-140),(1978.13,-146),(1978.17,-151),(1978.22,-154),(1978.27,-149),(1978.33,-140),(1978.38,-129),
(1978.42,-112.5),(1978.46,-99),(1978.51,-85),(1978.54,-68),(1978.59,-65),(1978.62,-46),(1978.66,-42),(1978.72,-36),(1978.77,-33),(1978.82,-29),
(1978.85,-42),(1978.91,-51),(1978.96,-57),(1979.01,-74),(1979.05,-79),(1979.09,-87.5),(1979.14,-87.5),(1979.18,-93),(1979.22,-99),(1979.26,-104),
(1979.31,-93),(1979.35,-76),(1979.39,-68),(1979.43,-60),(1979.47,-54),(1979.52,-40),(1979.56,-29),(1979.60,-18),(1979.64,-15),(1979.68,-10),
(1979.73,1.4),(1979.77,10),(1979.81,-1.4),(1979.85,10),(1979.91,4),(1979.96,18),(1980.00,1.4),(1980.06,-18),(1980.12,-46),(1980.17,-46),
(1980.22,-37.5),(1980.27,-43),(1980.33,-29),(1980.38,-21),(1980.43,-7),(1980.48,7),(1980.54,18),(1980.59,32),(1980.64,40),(1980.69,49),
(1980.75,62.5),(1980.80,64),(1980.85,60),(1980.91,57),(1980.96,54),(1981.01,57),(1981.06,40),(1981.12,32),(1981.17,32),(1981.22,26),
(1981.26,43),(1981.31,60),(1981.35,64),(1981.39,71),(1981.43,87.5),(1981.48,90),(1981.54,90),(1981.59,76),(1981.64,65),(1981.69,54),
(1981.75,49),(1981.80,37.5),(1981.85,43),(1981.91,57),(1981.96,60),(1982.01,65),(1982.06,71),(1982.11,49),(1982.15,37.5),(1982.19,35),
(1982.24,29),(1982.29,49),(1982.34,60),(1982.38,65),(1982.43,54),(1982.48,43),(1982.53,32),(1982.57,37.5),(1982.62,35),(1982.67,32),
(1982.72,26),(1982.76,54),(1982.80,60),(1982.85,62.5),(1982.91,71),(1982.95,85),(1982.99,99),(1983.03,90),(1983.07,87.5),(1983.13,85),
(1983.18,79),(1983.22,71),(1983.27,60),(1983.33,50),(1983.37,57),(1983.41,82),(1983.45,104),(1983.49,110),(1983.54,99),(1983.58,93),
(1983.63,90),(1983.67,82),(1983.72,71),(1983.77,62.5),(1983.82,71),(1983.86,82),(1983.92,99),(1983.96,115),(1984.00,125),(1984.04,129),
(1984.09,137.5),(1984.15,143),(1984.20,144),(1984.25,143),(1984.31,140),(1984.36,135),(1984.41,129),(1984.46,124),(1984.51,115),(1984.55,110),
(1984.59,104),(1984.64,101),(1984.69,96),(1984.75,96),(1984.80,110),(1984.85,124),(1984.91,132),(1984.95,143),(1984.99,154),(1985.03,161),
(1985.07,171),(1985.12,186),(1985.17,193),(1985.22,190),(1985.27,185),(1985.33,179),(1985.38,171),(1985.43,165),(1985.48,160),(1985.54,149),
(1985.58,137.5),(1985.62,124),(1985.66,112.5),(1985.71,101),(1985.75,93),(1985.80,99),(1985.85,110),(1985.91,129),(1985.96,149),(1986.01,174),
(1986.06,176),(1986.12,174),(1986.17,190),(1986.22,187.5),(1986.27,185),(1986.33,176),(1986.38,172),(1986.43,162.5),(1986.48,151),(1986.54,137.5),
(1986.59,115),(1986.64,87.5),(1986.69,96),(1986.75,99),(1986.80,107),(1986.85,110),(1986.91,129),(1986.96,146),(1987.01,151),(1987.06,160),
(1987.12,168),(1987.17,176),(1987.22,183),(1987.27,179),(1987.33,171),(1987.38,161),(1987.43,149),(1987.48,137.5),(1987.54,124),(1987.59,104),
(1987.64,87.5),(1987.69,76),(1987.75,60),(1987.80,65),(1987.85,74),(1987.91,87.5),(1987.96,99),(1988.01,121),(1988.06,149),(1988.12,154),
(1988.17,146),(1988.22,137.5),(1988.27,137.5),(1988.33,135),(1988.38,110),(1988.43,87.5),(1988.48,76),(1988.54,65),(1988.59,51),(1988.64,40),
(1988.69,18),(1988.75,43),(1988.80,49),(1988.85,57),(1988.91,62.5),(1988.96,68),(1989.01,76),(1989.06,87.5),(1989.12,99),(1989.17,107),
(1989.22,101),(1989.27,99),(1989.33,96),(1989.38,90),(1989.43,65),(1989.48,40),(1989.54,24),(1989.59,10),(1989.64,-1.4),(1989.69,-15),
(1989.75,-18),(1989.80,-10),(1989.85,-1.4),(1989.91,-10),(1989.96,10),(1990.01,18),(1990.06,21),(1990.12,29),(1990.17,37.5),(1990.22,21),
(1990.27,10),(1990.33,18),(1990.38,26),(1990.43,24),(1990.48,26),(1990.54,1.4),(1990.59,-21),(1990.64,4),(1990.69,21),(1990.75,15),
(1990.80,12.5),(1990.85,4),(1990.91,-10),(1990.96,10),(1991.01,32),(1991.06,43),(1991.12,40),(1991.17,32),(1991.21,40),(1991.26,15),
(1991.32,10),(1991.37,12.5),(1991.42,7),(1991.47,-1.4),(1991.50,-15),(1991.55,-24),(1991.59,-40),(1991.63,-51),(1991.68,-71),(1991.74,-79),
(1991.79,-85),(1991.84,-82),(1991.89,-74),(1991.95,-71),(1992.00,-68),(1992.05,-74),(1992.10,-65),(1992.16,-74),(1992.21,-79),(1992.26,-76),
(1992.32,-82),(1992.37,-87.5),(1992.42,-93),(1992.47,-90),(1992.53,-79),(1992.58,-99),(1992.63,-110),(1992.68,-107),(1992.74,-112.5),
(1992.79,-118),(1992.84,-112.5),(1992.89,-112.5),(1992.95,-126),(1993.00,-140),(1993.05,-140),(1993.10,-143),(1993.16,-154),(1993.21,-160),
(1993.26,-151),(1993.32,-149),(1993.37,-146),(1993.42,-135),(1993.47,-121),(1993.53,-112.5),(1993.58,-101),(1993.63,-96),(1993.68,-87.5),
(1993.74,-85),(1993.79,-87.5),(1993.84,-93),(1993.89,-99),(1993.95,-107),(1994.00,-118),(1994.05,-143),(1994.10,-157),(1994.16,-160),
(1994.21,-162.5),(1994.26,-165),(1994.32,-168),(1994.37,-154),(1994.42,-140),(1994.47,-132),(1994.53,-112.5),(1994.58,-99),(1994.63,-90),
(1994.68,-87.5),(1994.74,-79),(1994.79,-76),(1994.84,-82),(1994.89,-93),(1994.95,-107),(1995.00,-118),(1995.05,-129),(1995.10,-151),
(1995.16,-157),(1995.21,-162.5),(1995.26,-149),(1995.31,-140),(1995.37,-137.5),(1995.42,-126),(1995.47,-115),(1995.53,-104),(1995.58,-79),
(1995.63,-68),(1995.68,-71),(1995.74,-74),(1995.79,-79),(1995.84,-82),(1995.89,-87.5),(1995.95,-93),(1996.00,-43),(1996.03,-99),(1996.07,-140),
(1996.10,-112.5),(1996.16,-96),(1996.21,-110),(1996.26,-129),(1996.32,-112.5),(1996.37,-99),(1996.42,-82),(1996.47,-79),(1996.53,-76),
(1996.58,-68),(1996.63,-60),(1996.68,-51),(1996.74,-57),(1996.79,-60),(1996.84,-62.5),(1996.89,-68),(1996.95,-74),(1997.00,-87.5),(1997.05,-90),
(1997.10,-101),(1997.16,-107),(1997.21,-121),(1997.26,-129),(1997.32,-118),(1997.37,-112.5),(1997.42,-99),(1997.47,-85),(1997.53,-60),
(1997.58,-49),(1997.63,-43),(1997.68,-46),(1997.74,-40),(1997.79,-37.5),(1997.84,-29),(1997.89,-18),(1997.95,-57),(1998.00,-68),(1998.05,-74),
(1998.10,-76),(1998.16,-93),(1998.21,-82),(1998.26,-71),(1998.32,-65),(1998.37,-68),(1998.42,-62.5),(1998.47,-46),(1998.53,-29),(1998.58,-15),
(1998.63,-21),(1998.68,-24),(1998.74,-7),(1998.79,-1.4),(1998.84,-4),(1998.89,-1.4),(1998.95,-21),(1999.00,-40),(1999.05,-71),(1999.10,-90),
(1999.16,-76),(1999.21,-74),(1999.26,-74),(1999.32,-60),(1999.37,-54),(1999.42,-24),(1999.47,-1.4),(1999.53,15),(1999.58,32),(1999.63,43),
(1999.68,40),(1999.74,26),(1999.79,21),(1999.84,-1.4),(1999.89,-7),(1999.95,1.4),(2000.00,10),(2000.05,-1.4),(2000.10,-15),(2000.16,-29),
(2000.21,-35),(2000.26,-24),(2000.32,-18),(2000.37,-12.5),(2000.42,12.5),(2000.47,18),(2000.53,26),(2000.58,40),(2000.63,43),(2000.68,46),
(2000.74,74),(2000.79,57),(2000.84,54),(2000.89,49),(2000.95,35),(2001.00,4),(2001.05,-15),(2001.10,-18),(2001.16,-24),(2001.21,-24),
(2001.26,-15),(2001.31,-12.5),(2001.37,-1.4),(2001.42,21),(2001.47,10),(2001.53,26),(2001.58,54),(2001.63,82),(2001.68,65),(2001.74,76),
(2001.79,60),(2001.84,57),(2001.89,49),(2001.95,26),(2002.00,54),(2002.05,87.5),(2002.10,68),(2002.16,54),(2002.21,49),(2002.26,43),
(2002.32,32),(2002.37,26),(2002.42,54),(2002.47,43),(2002.53,62.5),(2002.58,76),(2002.63,57),(2002.68,37.5),(2002.74,18),(2002.79,7),
(2002.84,18),(2002.89,26),(2002.95,15),(2003.00,32),(2003.05,43),(2003.10,49),(2003.16,51),(2003.21,54),(2003.26,46),(2003.32,43),
(2003.37,54),(2003.42,60),(2003.47,49),(2003.53,54),(2003.58,54),(2003.63,51),(2003.68,54),(2003.74,51),(2003.79,57),(2003.84,54),
(2003.89,60),(2003.95,65),(2004.00,87.5),(2004.05,93),(2004.10,99),(2004.16,93),(2004.21,101),(2004.26,104),(2004.32,90),(2004.37,82),
(2004.42,76),(2004.47,68),(2004.53,57),(2004.58,49),(2004.63,32),(2004.68,24),(2004.74,26),(2004.79,32),(2004.84,37.5),(2004.89,43),
(2004.95,54),(2005.00,76),(2005.05,93),(2005.10,99),(2005.16,90),(2005.21,85),(2005.26,79),(2005.32,71),(2005.37,60),(2005.42,54),
(2005.47,49),(2005.53,43),(2005.58,37.5),(2005.63,32),(2005.68,26),(2005.74,29),(2005.79,37.5),(2005.84,49),(2005.89,60),(2005.95,71),
(2006.00,82),(2006.05,101),(2006.08,118),(2006.14,96),(2006.18,79),(2006.21,71),(2006.26,65),(2006.31,60),(2006.37,57),(2006.42,51),
(2006.47,49),(2006.52,46),(2006.58,43),(2006.63,40),(2006.68,37.5),(2006.74,32),(2006.79,29),(2006.84,37.5),(2006.89,46),(2006.95,54),
(2007.00,71),(2007.05,76),(2007.10,82),(2007.16,87.5),(2007.21,85),(2007.26,79),(2007.38,68),(2007.45,60),(2007.50,46),(2007.55,40),
(2007.60,35),(2007.65,26),(2007.71,24),(2007.76,29),(2007.81,35),(2007.86,37.5),(2007.91,43),(2007.96,54),(2008.01,62.5),(2008.06,65),
(2008.11,71),(2008.16,76),(2008.21,78),(2008.26,82),(2008.31,76),(2008.37,71),(2008.42,65),(2008.47,60),(2008.52,51),(2008.57,49),
(2008.62,43),(2008.67,40),(2008.72,35),(2008.77,32),(2008.82,35),(2008.87,40),(2008.92,51),(2008.97,65),(2009.03,76),(2009.08,79),
(2009.13,82),(2009.18,79),(2009.23,71),(2009.28,65),(2009.33,60),(2009.38,54),(2009.43,49),(2009.48,43),(2009.53,40),(2009.58,35),
(2009.63,32),(2009.69,29),(2009.74,26),(2009.79,32),(2009.84,35),(2009.89,43),(2009.94,46),(2009.99,54),(2010.04,65),(2010.09,71),
(2010.14,87.5),(2010.19,82),(2010.24,76),(2010.29,68),(2010.35,60),(2010.40,54),(2010.45,54),(2010.50,46),(2010.55,37.5),(2010.60,29),
(2010.65,26),(2010.70,24),(2010.75,21),(2010.80,29),(2010.85,37.5),(2010.90,43),(2010.95,49),(2011.01,51),(2011.06,57),(2011.11,60),
(2011.16,65),(2011.21,62.5),(2011.26,57),(2011.31,51),(2011.36,49),(2011.41,46),(2011.46,40),(2011.51,35),(2011.56,29),(2011.61,26),
(2011.66,29),(2011.72,26),(2011.77,29),(2011.82,32),(2011.87,37.5),(2011.92,43),(2011.97,43),(2012.02,51),(2012.07,60),(2012.12,61),
(2012.17,57),(2012.22,71),(2012.27,65),(2012.32,60),(2012.38,54),(2012.43,43),(2012.48,32),(2012.53,26),(2012.58,18),(2012.63,12.5),
(2012.68,10),(2012.73,4),(2012.78,1.4),(2012.83,4),(2012.88,12.5),(2012.93,21),(2012.98,24),(2013.04,32),(2013.09,43),(2013.14,46),
(2013.19,37.5),(2013.24,32),(2013.29,26),(2013.34,24),(2013.39,4),(2013.44,-7),(2013.49,-10),(2013.54,-18),(2013.59,-10),(2013.64,-12.5),
(2013.70,-10),(2013.75,-12.5),(2013.80,-10),(2013.85,-12.5),(2013.90,-10),(2013.95,-12.5),(2014.00,-7),(2014.05,-7),(2014.10,-4),(2014.15,-7),
(2014.20,-4),(2014.25,-1.4),(2014.30,-1.4),(2014.36,-7),(2014.41,-12.5),(2014.46,-15),(2014.51,-18),(2014.56,-18),(2014.61,-24),(2014.66,-24),
(2014.71,-29),(2014.76,-37.5),(2014.81,-35),(2014.86,-32),(2014.91,-40),(2014.96,-43),(2015.02,-40),(2015.07,-37.5),(2015.12,-43),(2015.17,-49),
(2015.22,-51),(2015.27,-54),(2015.32,-57),(2015.37,-65),(2015.42,-76),(2015.47,-79),(2015.52,-74),(2015.57,-68),(2015.62,-65),(2015.68,-62.5),
(2015.73,-65),(2015.78,-71),(2015.83,-68),(2015.88,-65),(2015.93,-74),(2015.98,-79),(2016.03,-87.5),(2016.08,-85),(2016.13,-85),(2016.18,-90),
(2016.23,-93),(2016.28,-93),(2016.34,-90),(2016.39,-96),(2016.44,-99),(2016.49,-74),(2016.54,-62.5),(2016.59,-54),(2016.64,-46),(2016.69,-40),
(2016.74,-35),(2016.79,-32),(2016.84,-40),(2016.89,-46),(2016.94,-65),(2016.99,-74),(2017.05,-90),(2017.10,-99),(2017.15,-101),(2017.20,-104),
(2017.25,-96),(2017.30,-87.5),(2017.35,-79),(2017.40,-74),(2017.45,-68),(2017.50,-62.5),(2017.55,-60),(2017.60,-54),(2017.66,-46),(2017.71,-43),
(2017.76,-49),(2017.81,-54),(2017.86,-57),(2017.91,-65),(2017.96,-71),(2018.01,-76),(2018.06,-85),(2018.11,-93),(2018.16,-101),(2018.21,-96),
(2018.26,-85),(2018.31,-79),(2018.37,-74),(2018.42,-68),(2018.47,-62.5),(2018.52,-57),(2018.57,-49),(2018.62,-43),(2018.67,-40),(2018.72,-37.5),
(2018.77,-35),(2018.82,-37.5),(2018.87,-40),(2018.92,-49),(2018.97,-57),(2019.03,-68),(2019.08,-74),(2019.13,-82),(2019.18,-85),(2019.23,-79),
(2019.28,-74),(2019.33,-68),(2019.38,-60),(2019.43,-51),(2019.48,-49),(2019.53,-43),(2019.58,-40),(2019.64,-35),(2019.69,-32),(2019.74,-35),
(2019.79,-40),(2019.84,-43),(2019.89,-46),(2019.94,-54),(2019.99,-60),(2020.04,-68),(2020.09,-82),(2020.14,-79),(2020.19,-74),(2020.24,-68),
(2020.29,-62.5),(2020.35,-60),(2020.40,-57),(2020.45,-49),(2020.50,-43),(2020.55,-37.5),(2020.60,-35),(2020.65,-32),(2020.70,-26),(2020.75,-29),
(2020.80,-35),(2020.85,-43),(2020.90,-49),(2020.95,-57),(2021.01,-60),(2021.06,-65),(2021.11,-60),(2021.16,-68),(2021.21,-76),(2021.26,-74),
(2021.31,-71),(2021.36,-65),(2021.41,-62.5),(2021.46,-46),(2021.51,-37.5),(2021.56,-29),(2021.62,-24),(2021.67,-21),(2021.72,-29),(2021.77,-37.5),
(2021.82,-35),(2021.87,-40),(2021.92,-46),(2021.97,-49),(2022.02,-62.5),(2022.07,-65),(2022.12,-68),(2022.17,-71),(2022.22,-76),(2022.27,-57),
(2022.32,-54),(2022.37,-46),(2022.42,-35),(2022.47,-26),(2022.52,-18),(2022.57,-7),(2022.62,1.4),(2022.66,5.6),
]

# ---------------- Neutron monitor count rate (year, %) ----------------
nm_rate = [
(1975.03,96.57),(1975.09,96.79),(1975.17,97.45),(1975.24,97.74),(1975.33,98.10),(1975.40,97.96),(1975.48,98.25),(1975.57,98.06),
(1975.64,97.59),(1975.71,97.71),(1975.80,97.66),(1975.91,97.01),(1975.98,97.45),(1976.06,97.52),(1976.15,97.66),(1976.23,97.81),
(1976.32,97.37),(1976.40,97.81),(1976.48,97.66),(1976.57,97.96),(1976.64,98.00),(1976.73,98.10),(1976.81,98.06),(1976.89,98.06),
(1976.98,97.96),(1977.06,97.81),(1977.15,97.74),(1977.22,97.88),(1977.31,98.00),(1977.38,97.88),(1977.43,97.59),(1977.49,97.33),
(1977.60,96.35),(1977.66,96.57),(1977.73,96.60),(1977.79,97.23),(1977.85,97.66),(1977.93,98.06),(1977.98,98.00),(1978.03,97.37),
(1978.09,96.79),(1978.17,96.50),(1978.23,96.31),(1978.29,95.26),(1978.36,94.38),(1978.42,93.68),(1978.48,94.53),(1978.57,94.96),
(1978.61,95.69),(1978.67,96.74),(1978.74,96.57),(1978.82,95.14),(1978.91,95.99),(1978.99,95.91),(1979.07,95.04),(1979.16,94.45),
(1979.24,93.80),(1979.28,92.63),(1979.34,92.12),(1979.41,92.77),(1979.47,91.61),(1979.52,90.85),(1979.58,91.31),(1979.62,90.44),
(1979.67,89.64),(1979.75,90.44),(1979.81,91.90),(1979.87,91.93),(1979.94,92.48),(1980.00,93.47),(1980.04,92.63),(1980.09,91.93),
(1980.17,92.48),(1980.25,93.68),(1980.32,92.34),(1980.38,92.31),(1980.44,91.31),(1980.51,90.36),(1980.59,90.58),(1980.67,91.20),
(1980.75,90.99),(1980.82,89.56),(1980.88,88.47),(1980.93,88.10),(1980.99,88.25),(1981.07,90.88),(1981.16,90.15),(1981.25,89.34),
(1981.33,89.64),(1981.41,87.59),(1981.50,90.29),(1981.58,90.99),(1981.66,90.80),(1981.75,91.82),(1981.83,88.76),(1981.89,89.01),
(1981.98,90.22),(1982.06,91.49),(1982.15,89.12),(1982.23,91.24),(1982.32,91.61),(1982.40,92.19),(1982.48,88.69),(1982.57,85.40),
(1982.65,85.69),(1982.75,83.80),(1982.82,85.91),(1982.91,86.79),(1982.99,85.36),(1983.07,89.42),(1983.16,89.64),(1983.24,90.91),
(1983.33,91.05),(1983.41,88.61),(1983.50,90.00),(1983.58,91.46),(1983.66,91.17),(1983.75,91.61),(1983.83,91.90),(1983.92,92.41),
(1984.00,92.41),(1984.06,93.04),(1984.15,92.48),(1984.23,91.49),(1984.32,90.95),(1984.40,88.76),(1984.49,90.07),(1984.57,90.76),
(1984.65,91.68),(1984.74,92.07),(1984.82,92.16),(1984.91,91.75),(1984.99,92.19),(1985.07,92.85),(1985.16,94.09),(1985.24,94.38),
(1985.33,95.11),(1985.39,95.14),(1985.45,95.84),(1985.52,96.42),(1985.59,96.42),(1985.66,96.57),(1985.75,97.15),(1985.82,96.79),
(1985.91,97.18),(1985.98,96.86),(1986.06,97.01),(1986.16,95.47),(1986.26,96.72),(1986.34,98.03),(1986.42,98.39),(1986.51,98.79),
(1986.59,98.79),(1986.67,98.76),(1986.75,98.54),(1986.83,98.93),(1986.92,97.71),(1986.99,98.54),(1987.07,99.42),(1987.16,100.00),
(1987.22,100.07),(1987.31,99.71),(1987.41,99.20),(1987.49,98.06),(1987.56,97.74),(1987.64,97.15),(1987.71,96.69),(1987.77,96.35),
(1987.83,96.45),(1987.89,95.69),(1987.94,95.47),(1988.00,95.43),(1988.08,93.87),(1988.15,94.23),(1988.23,94.35),(1988.32,94.06),
(1988.40,94.38),(1988.49,94.09),(1988.55,93.36),(1988.59,92.77),(1988.65,92.45),(1988.73,92.80),(1988.80,92.48),(1988.91,92.07),
(1988.97,90.88),(1989.03,90.29),(1989.09,89.88),(1989.16,89.71),(1989.20,87.96),(1989.25,85.84),(1989.31,86.57),(1989.35,86.20),
(1989.41,85.11),(1989.49,86.06),(1989.57,88.07),(1989.64,86.86),(1989.75,85.62),(1989.83,83.43),(1989.92,82.63),(1990.00,84.09),
(1990.08,85.47),(1990.17,86.06),(1990.25,85.18),(1990.34,83.36),(1990.42,82.92),(1990.51,83.65),(1990.59,85.69),(1990.64,85.47),
(1990.74,86.38),(1990.82,87.88),(1990.91,88.76),(1990.99,88.66),(1991.05,90.18),(1991.14,90.18),(1991.20,87.23),(1991.26,84.89),
(1991.34,85.77),(1991.42,86.13),(1991.48,78.5),(1991.56,78.5),(1991.61,79.0),(1991.66,82.99),(1991.74,85.77),(1991.81,86.35),
(1991.88,86.35),(1991.95,87.01),(1992.00,88.10),(1992.07,88.18),(1992.16,87.52),(1992.24,89.05),(1992.33,91.02),(1992.41,90.29),
(1992.47,92.19),(1992.56,93.21),(1992.64,92.99),(1992.75,92.22),(1992.83,93.24),(1992.92,92.77),(1993.00,93.97),(1993.08,93.50),
(1993.17,93.43),(1993.25,92.66),(1993.34,93.68),(1993.42,93.94),(1993.50,94.26),(1993.61,94.26),(1993.69,94.70),(1993.78,94.85),
(1993.86,95.04),(1993.93,95.14),(1994.01,94.82),(1994.09,95.00),(1994.18,94.12),(1994.28,93.91),(1994.37,94.31),(1994.45,94.38),
(1994.54,94.82),(1994.62,95.26),(1994.75,95.69),(1994.85,95.58),(1994.98,95.40),(1995.06,95.84),(1995.17,96.16),(1995.25,95.69),
(1995.34,96.06),(1995.42,96.35),(1995.48,96.35),(1995.59,95.87),(1995.69,96.16),(1995.82,96.50),(1995.95,96.50),(1996.05,96.57),
(1996.16,97.15),(1996.24,97.30),(1996.33,97.33),(1996.41,97.08),(1996.49,96.93),(1996.60,96.93),(1996.68,96.83),(1996.77,96.64),
(1996.83,96.35),(1996.89,96.25),(1996.98,96.54),(1997.06,97.01),(1997.15,97.47),(1997.23,97.47),(1997.32,97.23),(1997.42,97.56),
(1997.50,97.33),(1997.59,97.15),(1997.67,97.45),(1997.74,97.18),(1997.82,98.06),(1997.88,97.96),(1997.97,97.96),(1998.03,97.47),
(1998.12,97.01),(1998.18,97.18),(1998.24,97.47),(1998.33,95.33),(1998.43,94.41),(1998.49,94.50),(1998.58,95.55),(1998.66,94.50),
(1998.75,95.62),(1998.83,96.50),(1998.92,95.91),(1999.00,95.14),(1999.08,93.87),(1999.15,93.82),(1999.23,94.16),(1999.32,94.50),
(1999.40,94.12),(1999.48,95.23),(1999.57,95.72),(1999.65,93.65),(1999.74,92.66),(1999.82,92.26),(1999.90,91.93),(2000.01,91.34),
(2000.09,92.04),(2000.18,91.24),(2000.26,89.93),(2000.33,90.58),(2000.41,88.72),(2000.49,87.01),(2000.58,86.13),(2000.66,87.81),
(2000.75,88.76),(2000.83,90.66),(2000.92,88.32),(2001.00,89.27),(2001.08,90.29),(2001.17,91.93),(2001.25,92.85),(2001.34,88.32),
(2001.42,90.15),(2001.50,90.95),(2001.59,91.31),(2001.67,89.85),(2001.74,89.85),(2001.82,89.05),(2001.90,90.61),(2001.97,90.80),
(2002.07,88.51),(2002.16,90.88),(2002.24,89.85),(2002.33,89.74),(2002.41,89.71),(2002.49,90.22),(2002.58,88.83),(2002.66,87.55),
(2002.75,88.83),(2002.83,89.56),(2002.92,88.10),(2003.00,88.69),(2003.08,89.71),(2003.17,89.34),(2003.25,89.71),(2003.34,89.20),
(2003.42,88.76),(2003.48,86.93),(2003.57,88.69),(2003.65,89.34),(2003.74,89.93),(2003.82,88.47),(2003.90,84.60),(2003.99,89.56),
(2004.07,88.98),(2004.16,91.24),(2004.24,92.48),(2004.33,92.85),(2004.41,93.62),(2004.49,93.53),(2004.58,92.48),(2004.66,93.07),
(2004.75,93.65),(2004.83,95.23),(2004.92,93.43),(2005.00,94.16),(2005.08,90.88),(2005.17,93.28),(2005.25,93.72),(2005.34,94.16),
(2005.42,92.55),(2005.50,93.65),(2005.59,92.99),(2005.67,92.48),(2005.76,90.44),(2005.84,93.94),(2005.93,95.08),(2006.01,95.23),
(2006.09,95.47),(2006.18,96.42),(2006.26,97.01),(2006.35,97.15),(2006.45,97.08),(2006.56,96.57),(2006.64,96.57),(2006.73,96.72),
(2006.79,96.98),(2006.85,97.47),(2006.94,96.64),(2006.98,96.31),(2007.06,98.03),(2007.15,97.77),(2007.23,98.25),(2007.30,98.61),
(2007.40,98.54),(2007.50,98.39),(2007.67,98.15),(2007.81,98.47),(2007.89,98.32),(2007.97,98.61),(2008.07,98.35),(2008.17,98.25),
(2008.25,98.32),(2008.34,98.54),(2008.42,98.35),(2008.50,98.18),(2008.60,98.47),(2008.68,98.79),(2008.78,98.91),(2008.88,99.20),
(2008.96,99.56),(2009.07,99.90),(2009.17,100.39),(2009.27,100.63),(2009.41,100.77),(2009.51,100.44),(2009.59,100.51),(2009.70,100.29),
(2009.80,100.44),(2009.90,100.51),(2009.98,100.73),(2010.06,100.51),(2010.16,99.64),(2010.24,98.98),(2010.33,98.20),(2010.41,98.61),
(2010.49,98.15),(2010.57,98.15),(2010.65,98.00),(2010.73,98.00),(2010.81,98.35),(2010.89,98.00),(2010.95,97.85),(2011.06,98.47),
(2011.14,98.58),(2011.24,97.59),(2011.32,95.99),(2011.40,98.06),(2011.48,94.93),(2011.56,95.72),(2011.64,96.01),(2011.73,95.91),
(2011.81,95.58),(2011.89,96.42),(2011.97,97.47),(2012.05,97.01),(2012.11,96.42),(2012.17,96.13),(2012.25,94.09),(2012.34,96.69),
(2012.40,96.45),(2012.50,95.47),(2012.58,93.14),(2012.66,93.94),(2012.74,94.96),(2012.82,94.74),(2012.90,95.11),(2012.98,95.55),
(2013.07,96.35),(2013.15,96.39),(2013.23,95.11),(2013.31,95.28),(2013.37,94.26),(2013.43,93.24),(2013.49,93.36),(2013.57,93.94),
(2013.65,94.38),(2013.72,94.38),(2013.78,95.40),(2013.84,95.26),(2013.92,94.82),(2014.00,94.35),(2014.06,94.31),(2014.16,93.04),
(2014.24,93.58),(2014.32,93.97),(2014.41,94.70),(2014.49,93.21),(2014.57,93.72),(2014.65,94.64),(2014.73,93.58),(2014.81,93.43),
(2014.89,93.07),(2014.93,92.48),(2014.99,91.61),(2015.08,93.07),(2015.16,93.24),(2015.24,92.04),(2015.32,92.89),(2015.42,93.68),
(2015.50,93.14),(2015.58,94.31),(2015.66,94.35),(2015.75,94.16),(2015.83,94.38),(2015.91,94.67),(2015.99,95.11),(2016.07,96.06),
(2016.15,96.93),(2016.23,96.72),(2016.34,96.35),(2016.42,96.64),(2016.50,96.86),(2016.58,96.57),(2016.66,97.15),(2016.74,97.23),
(2016.82,97.81),(2016.90,98.35),(2016.98,98.54),(2017.07,98.93),(2017.15,99.20),(2017.25,99.46),(2017.33,98.69),(2017.41,98.58),
(2017.49,98.76),(2017.57,98.18),(2017.68,97.47),(2017.74,97.30),(2017.82,98.03),(2017.92,98.83),(2017.98,98.98),(2018.06,99.05),
(2018.16,99.42),(2018.25,99.23),(2018.33,99.38),(2018.41,99.23),(2018.49,99.38),(2018.61,99.38),(2018.71,99.46),(2018.83,99.56),
(2018.95,99.61),(2019.08,99.64),(2019.16,99.75),(2019.24,99.81),(2019.32,99.64),(2019.40,98.83),(2019.48,99.27),(2019.56,99.17),
(2019.64,99.17),(2019.73,99.71),(2019.81,99.75),(2019.89,99.78),(2019.97,99.56),(2020.07,99.27),(2020.17,100.10),(2020.28,100.15),
(2020.34,100.29),(2020.42,100.00),(2020.52,99.81),(2020.60,99.56),(2020.68,99.56),(2020.76,99.37),(2020.85,99.23),(2020.93,99.46),
(2021.01,98.98),(2021.09,99.20),(2021.17,99.23),(2021.25,99.42),(2021.35,99.27),(2021.46,99.31),(2021.51,98.98),(2021.59,98.54),
(2021.67,98.79),(2021.76,98.69),(2021.84,98.83),(2021.92,98.35),(2022.00,98.79),(2022.08,99.05),(2022.16,98.35),(2022.24,98.20),
(2022.27,98.15),
]

# ---------------- Shaded A<0 polarity epochs and labels ----------------
shade_spans = [(1980.0, 1990.5), (2001.0, 2013.0)]
polarity_labels = ["A > 0", "A < 0", "A > 0", "A < 0", "A > 0"]
polarity_x = [1976, 1985, 1995, 2008, 2018]
polarity_colors = ["red", "blue", "red", "blue", "red"]
polarity_y = 85

# ---------------- Figure ----------------
fig = plt.figure(figsize=(4949 / 300, 2539 / 300), dpi=300)
left, width, height = 0.0546, 0.9395, 0.1973
bottoms = [0.7834, 0.5463, 0.3081, 0.0713]
axes = [fig.add_axes([left, b, width, height]) for b in bottoms]

for ax in axes:
    for a, b in shade_spans:
        ax.axvspan(a, b, color="gray", alpha=0.25)
    ax.set_xlim(1975, 2023)
    ax.tick_params(labelsize=12)

# Panel 1: sunspots
ax = axes[0]
ax.plot(sunspot_time, sunspot, color="black", lw=1.5)
ax.set_ylim(0, 300)
ax.set_yticks([0, 100, 200, 300])
ax.set_ylabel("Sunspot number", fontsize=14)

# Panel 2: HCS tilt
ax = axes[1]
lt, lv = zip(*l_model)
rt, rv = zip(*r_model)
ax.plot(lt, lv, color="purple", lw=1.5, label="L model")
ax.plot(rt, rv, color="green", lw=1.5, ls="--", label="R model")
ax.set_ylim(-4.6, 79.1)
ax.set_yticks([0, 20, 40, 60])
ax.set_ylabel(r"HCS tilt angle ($^{\circ}$)", fontsize=14)
ax.legend(loc="upper right", fontsize=12)

# Panel 3: polar fields
ax = axes[2]
nt, nv = zip(*north_pole)
st, sv = zip(*south_pole)
ax.plot(nt, nv, color="red", lw=1.5, label="Northern pole")
ax.plot(st, sv, color="blue", lw=1.5, ls="--", label="Southern pole")
ax.set_ylim(-210, 209)
ax.set_yticks([-200, -100, 0, 100, 200])
ax.set_ylabel("Polar field (G)", fontsize=14)
ax.legend(loc="upper right", ncol=2, fontsize=12)

# Panel 4: NM count rate
ax = axes[3]
mt, mv = zip(*nm_rate)
ax.plot(mt, mv, color="black", lw=1.5)
ax.set_ylim(80, 102)
ax.set_yticks([80, 85, 90, 95, 100])
ax.set_ylabel("NM count rate", fontsize=14)
ax.set_xlabel("Time (years)", fontsize=14)
for x, s, c in zip(polarity_x, polarity_labels, polarity_colors):
    ax.text(x, polarity_y, s, color=c, fontsize=12, ha="left", va="baseline")

fig.savefig("out.png", dpi=300)
